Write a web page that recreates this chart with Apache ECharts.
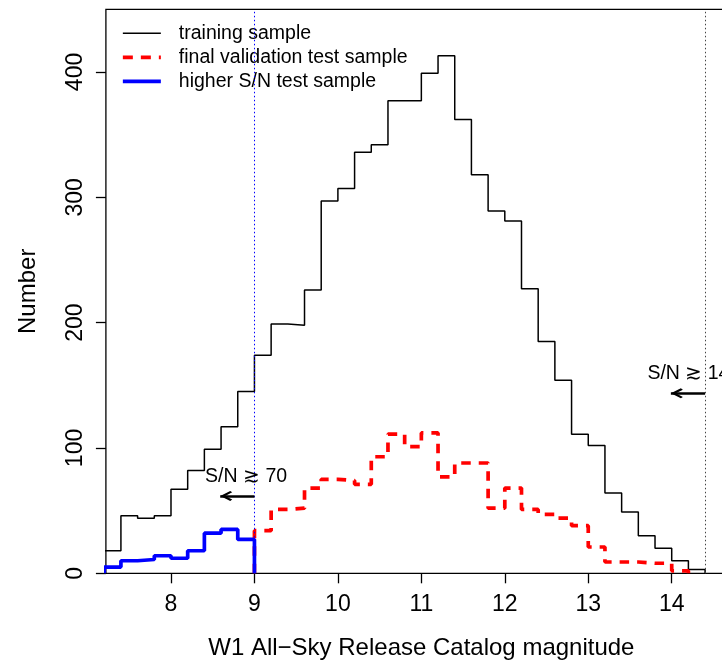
<!DOCTYPE html>
<html>
<head>
<meta charset="utf-8">
<script src="https://cdn.jsdelivr.net/npm/echarts@6/dist/echarts.min.js"></script>
<style>
html,body{margin:0;padding:0;background:#ffffff;}
#chart{width:722px;height:661px;}
</style>
</head>
<body>
<div id="chart"></div>
<script>
// Bin edges of the W1 magnitude histograms (bin width 0.2 mag)
const binEdges = [7.2,7.4,7.6,7.8,8.0,8.2,8.4,8.6,8.8,9.0,9.2,9.4,9.6,9.8,10.0,10.2,10.4,10.6,10.8,
                  11.0,11.2,11.4,11.6,11.8,12.0,12.2,12.4,12.6,12.8,13.0,13.2,13.4,13.6,13.8,14.0,14.2,14.4];
// Counts per bin (one value per bin, null = no bin drawn)
const trainingCounts = [18,46,44,46,67,82,99,117,145,174,199,198,226,297,307,336,342,377,377,
                        399,413,362,318,289,281,227,185,154,111,102,64,49,30,20,10,3];
const validationCounts = [null,null,null,null,null,null,null,null,null,
                          34,51,52,68,75,74,71,93,111,101,112,77,88,88,52,68,51,47,44,38,21,9,9,8,8,2,null];
const highSNCounts = [5,10,11,14,12,18,32,35,27,
                      null,null,null,null,null,null,null,null,null,null,null,null,null,null,null,null,null,null,
                      null,null,null,null,null,null,null,null,null];
const seriesNames = ['training sample','final validation test sample','higher S/N test sample'];
const xTicks = [8,9,10,11,12,13,14];
const yTicks = [0,100,200,300,400];
// S/N limits and annotations
const snLimits = [9.0, 14.4];
const snLabels = ['S/N \u2273 70','S/N \u2273 14'];
const snArrowY = [61.7, 143.6];
const snArrowTip = [8.59, 13.99];
const snLabelPos = [[8.9, 77.5],[14.2, 159.6]];

function stepPoints(counts){
  let a = counts.findIndex(v => v != null);
  let b = counts.length - 1;
  while (counts[b] == null) b--;
  const pts = [[binEdges[a], 0]];
  for (let i = a; i <= b; i++) pts.push([binEdges[i], counts[i]]);
  pts.push([binEdges[b + 1], 0]);
  return pts;
}

const FONT = '"Liberation Sans", Arial, Helvetica, sans-serif';
const lineStyles = [
  {color:'#000000', width:1.5, type:'solid'},
  {color:'#ff0000', width:3.7, type:[9.5,8]},
  {color:'#0000ff', width:3.7, type:'solid'}
];
// open chevron arrow head, tip placed at the centre of the symbol box
const arrowHead = 'path://M50,-96 M50,0 L100,80 L86,96 L50,40 L14,96 L0,80 Z';
const chart = echarts.init(document.getElementById('chart'), null, {renderer:'canvas'});

const annotationLines = [
  {xAxis: snLimits[0], lineStyle:{color:'#0000ff', width:1, type:[1.5,2.5]}},
  {xAxis: snLimits[1], lineStyle:{color:'#444444', width:1, type:[1.5,2.5]}},
];
for (let k = 0; k < 2; k++) {
  annotationLines.push([
    {coord:[snLimits[k], snArrowY[k]], symbol:'none'},
    {coord:[snArrowTip[k], snArrowY[k]], symbol: arrowHead, symbolSize:[10, 24],
     lineStyle:{color:'#000', width:2.5, type:'solid'}}
  ]);
}

const option = {
  animation: false,
  textStyle: {fontFamily: FONT, color:'#000'},
  grid: {
    left: 105.9, top: 9.3, width: 630.9, height: 564,
    show: true, borderColor:'#000', borderWidth: 1.3, backgroundColor:'transparent',
    containLabel: false, outerBoundsMode: 'none'
  },
  legend: {
    data: seriesNames.map((n, k) => ({name: n, lineStyle: Object.assign({}, lineStyles[k], {type: k === 1 ? [10,8] : 'solid'})})),
    orient: 'vertical', left: 121, top: 23.3, padding: 0,
    itemWidth: 38, itemHeight: 14, itemGap: 4,
    selectedMode: false,
    itemStyle: {color:'rgba(0,0,0,0)', borderColor:'rgba(0,0,0,0)', borderWidth:0, opacity:0},
    textStyle: {fontSize: 19.5, color:'#000', lineHeight: 20, fontFamily: FONT, padding:[0,0,0,13]}
  },
  xAxis: {
    type: 'value', min: 7.22, max: 14.78,
    axisLine: {show:false},
    splitLine: {show:false},
    axisTick: {show:true, inside:false, length:10, customValues: xTicks, lineStyle:{color:'#000', width:1.3}},
    axisLabel: {customValues: xTicks, fontSize: 23, color:'#000', margin: 20, fontFamily: FONT},
    name: 'W1 All\u2212Sky Release Catalog magnitude',
    nameLocation: 'middle', nameGap: 63,
    nameTextStyle: {fontSize: 24, color:'#000', fontFamily: FONT}
  },
  yAxis: {
    type: 'value', min: 0, max: 450,
    axisLine: {show:false},
    splitLine: {show:false},
    axisTick: {show:true, inside:false, length:10, customValues: yTicks, lineStyle:{color:'#000', width:1.3}},
    axisLabel: {customValues: yTicks, fontSize: 23, color:'#000', margin: 19, rotate: 90, fontFamily: FONT},
    name: 'Number',
    nameLocation: 'middle', nameGap: 66,
    nameTextStyle: {fontSize: 24, color:'#000', fontFamily: FONT}
  },
  series: [
    {
      name: seriesNames[0], type:'line', step:'end', symbol:'none', clip: true,
      data: stepPoints(trainingCounts),
      lineStyle: lineStyles[0],
      itemStyle: {color:'#000'},
      z: 2,
      markPoint: {
        silent: true, symbol:'rect', symbolSize: 1,
        itemStyle: {color:'rgba(0,0,0,0)'},
        label: {show:true, position:'inside', color:'#000', fontSize:19.5, fontFamily: FONT},
        data: snLabelPos.map((p, k) => ({coord: p, value: snLabels[k], label:{formatter: snLabels[k]}}))
      }
    },
    {
      name: seriesNames[1], type:'line', step:'end', symbol:'none', clip: true,
      data: stepPoints(validationCounts),
      lineStyle: lineStyles[1],
      itemStyle: {color:'#ff0000'},
      z: 3
    },
    {
      name: seriesNames[2], type:'line', step:'end', symbol:'none', clip: true,
      data: stepPoints(highSNCounts),
      lineStyle: lineStyles[2],
      itemStyle: {color:'#0000ff'},
      z: 4,
      markLine: {
        silent: true, symbol:['none','none'], label:{show:false},
        lineStyle: {color:'#000'},
        emphasis: {disabled: true},
        data: annotationLines
      }
    }
  ]
};
chart.setOption(option);
</script>
</body>
</html>
